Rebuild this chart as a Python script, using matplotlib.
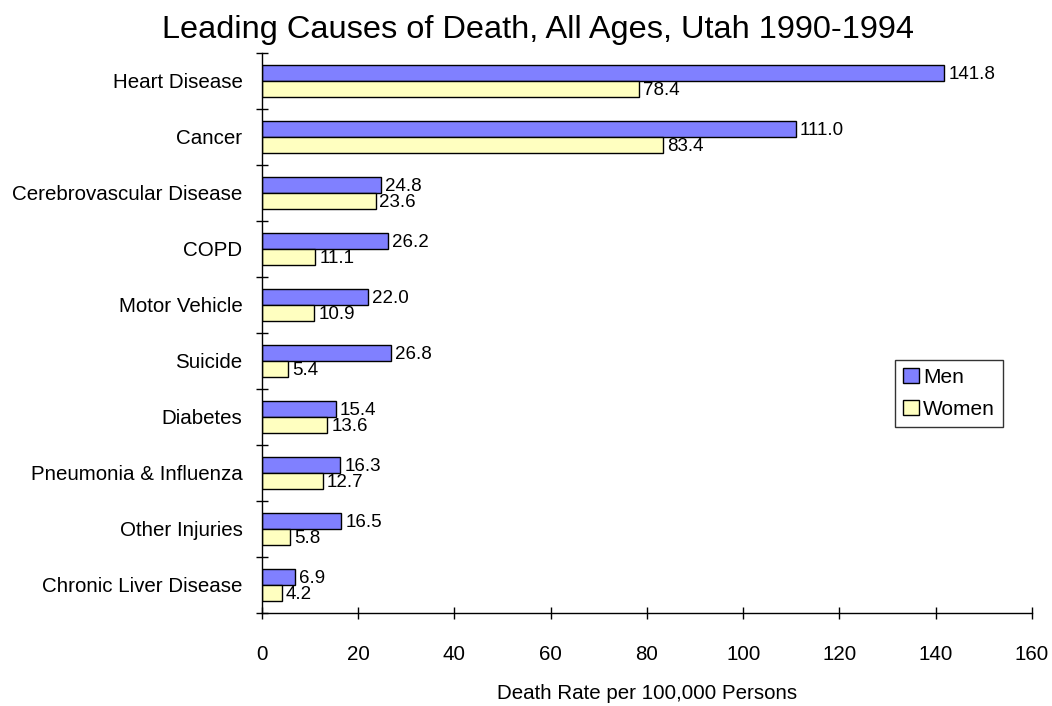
import numpy as np
import matplotlib.pyplot as plt

plt.rcParams['font.family'] = ['Liberation Sans', 'DejaVu Sans']

causes = ["Heart Disease", "Cancer", "Cerebrovascular Disease", "COPD",
          "Motor Vehicle", "Suicide", "Diabetes", "Pneumonia & Influenza",
          "Other Injuries", "Chronic Liver Disease"]
men = [141.8, 111.0, 24.8, 26.2, 22.0, 26.8, 15.4, 16.3, 16.5, 6.9]
women = [78.4, 83.4, 23.6, 11.1, 10.9, 5.4, 13.6, 12.7, 5.8, 4.2]

fig = plt.figure(figsize=(10.52, 7.06), dpi=100)
ax = fig.add_axes([0.249, 0.132, 0.732, 0.793])

n = len(causes)
y = np.arange(n)
h = 0.29

ax.barh(y - h / 2, men, height=h, color="#8080FF", edgecolor="black",
        linewidth=1, label="Men")
ax.barh(y + h / 2, women, height=h, color="#FFFFC0", edgecolor="black",
        linewidth=1, label="Women")

# value labels; men's sit a bit lower like the original
for i in range(n):
    ax.text(men[i] + 0.8, y[i] - h / 2 + 0.03, f"{men[i]:.1f}",
            va="center", ha="left", fontsize=13.5)
    ax.text(women[i] + 0.8, y[i] + h / 2 + 0.02, f"{women[i]:.1f}",
            va="center", ha="left", fontsize=13.5)

ax.set_xlim(0, 160)
ax.set_ylim(n - 0.5, -0.5)
ax.set_xticks(np.arange(0, 161, 20))
ax.tick_params(axis="x", direction="inout", length=9, width=1,
               labelsize=14.8, pad=19)

ax.set_yticks(np.arange(-0.5, n, 1))
ax.set_yticklabels([])
ax.set_yticks(y, minor=True)
ax.set_yticklabels(causes, minor=True)
ax.tick_params(axis="y", which="major", direction="inout", length=9, width=1)
ax.tick_params(axis="y", which="minor", length=0, labelsize=14.8, pad=14)

for s in ["top", "right"]:
    ax.spines[s].set_visible(False)
for s in ["left", "bottom"]:
    ax.spines[s].set_linewidth(1)

ax.set_xlabel("Death Rate per 100,000 Persons", fontsize=14.8, labelpad=14)
fig.suptitle("Leading Causes of Death, All Ages, Utah 1990-1994",
             fontsize=23.4, x=0.511, y=0.957, va="center")

leg = ax.legend(loc="upper left", bbox_to_anchor=(0.822, 0.452),
                fontsize=15, frameon=True, fancybox=False,
                handlelength=0.75, handleheight=0.75, handletextpad=0.2,
                borderpad=0.4, labelspacing=0.6, borderaxespad=0)
leg.get_frame().set_edgecolor("black")
leg.get_frame().set_linewidth(1)

fig.savefig("out.png", dpi=100)
